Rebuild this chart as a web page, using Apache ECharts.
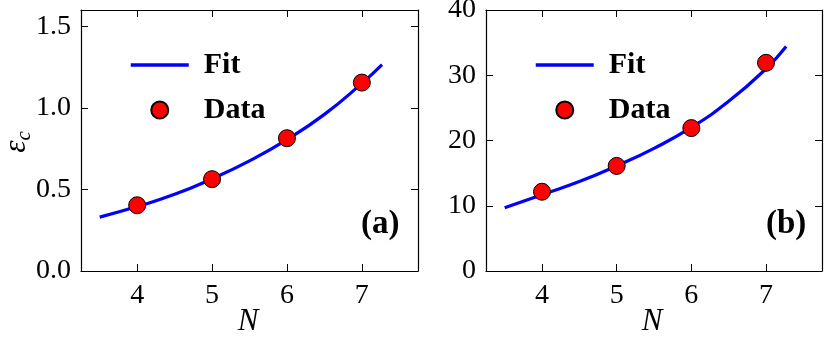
<!DOCTYPE html>
<html>
<head>
<meta charset="utf-8">
<script src="https://cdn.jsdelivr.net/npm/echarts@6/dist/echarts.min.js"></script>
<style>
  html, body { margin: 0; padding: 0; background: #fff; }
  #chart { width: 830px; height: 341px; }
</style>
</head>
<body>
<div id="chart"></div>
<script>
// data
const nTicks = [4, 5, 6, 7];
const epsTicks = [0.0, 0.5, 1.0, 1.5];
const bTicks = [0, 10, 20, 30, 40];

const nData = [4, 5, 6, 7];
const epsData = [0.403, 0.563, 0.814, 1.155];
const bData = [12.15, 16.1, 21.9, 31.9];

const fitN = [3.5, 4, 4.5, 5, 5.5, 6, 6.5, 7, 7.27];
const fitA = [0.33, 0.395, 0.47, 0.565, 0.675, 0.805, 0.96, 1.15, 1.265];
const fitB = [9.7, 11.7, 13.7, 16.1, 18.8, 22.0, 26.0, 31.0, 34.4];

const FONT = "Liberation Serif";
const pairs = (xs, ys) => xs.map((x, i) => [x, ys[i]]);

const chart = echarts.init(document.getElementById("chart"));

const xAxisBase = (gridIndex, pos) => ({
  gridIndex: gridIndex,
  type: "value",
  position: pos,
  min: 3.25,
  max: 7.75,
  axisLine: { show: true, onZero: false, lineStyle: { color: "#000", width: 1.2 } },
  axisTick: { show: true, inside: true, length: 7, customValues: nTicks, lineStyle: { color: "#000", width: 1 } },
  axisLabel: {
    show: pos === "bottom",
    customValues: nTicks,
    margin: 11,
    fontFamily: FONT,
    fontSize: 28,
    color: "#000"
  },
  splitLine: { show: false }
});

const yAxisBase = (gridIndex, pos, max, ticks, fmt) => ({
  gridIndex: gridIndex,
  type: "value",
  position: pos,
  min: 0,
  max: max,
  axisLine: { show: true, onZero: false, lineStyle: { color: "#000", width: 1.2 } },
  axisTick: { show: true, inside: true, length: 7, customValues: ticks, lineStyle: { color: "#000", width: 1 } },
  axisLabel: {
    show: pos === "left",
    customValues: ticks,
    margin: 10,
    fontFamily: FONT,
    fontSize: 28,
    color: "#000",
    formatter: fmt
  },
  splitLine: { show: false }
});

const legendBase = left => ({
  orient: "vertical",
  left: left,
  top: 45,
  itemWidth: 58,
  itemHeight: 17,
  itemGap: 15,
  data: [
    { name: "Fit", itemStyle: { color: "rgba(0,0,0,0)", borderWidth: 0 }, lineStyle: { color: "#0000ff", width: 3.5 } },
    { name: "Data" }
  ],
  textStyle: {
    fontFamily: FONT,
    fontWeight: "bold",
    fontSize: 30,
    lineHeight: 30,
    color: "#000",
    padding: [0, 0, 0, 10]
  },
  selectedMode: false
});

// axis titles drawn as plain text
const nTitle = x => ({
  type: "text",
  x: x,
  y: 322,
  style: {
    text: "N",
    font: "italic 31px '" + FONT + "'",
    fill: "#000",
    align: "center",
    verticalAlign: "middle"
  }
});

const fitStyle = { color: "#0000ff", width: 3.2 };
const dotStyle = { color: "#ff0000", borderColor: "#000", borderWidth: 1, opacity: 1 };

chart.setOption({
  animation: false,
  backgroundColor: "#fff",
  grid: [
    { left: 81, top: 10, width: 337, height: 261, containLabel: false, outerBoundsMode: "none" },
    { left: 486, top: 10, width: 336, height: 261, containLabel: false, outerBoundsMode: "none" }
  ],
  title: [
    { text: "(a)", left: 361, top: 208, padding: 0,
      textStyle: { fontFamily: FONT, fontWeight: "bold", fontSize: 33, color: "#000" } },
    { text: "(b)", left: 766, top: 208, padding: 0,
      textStyle: { fontFamily: FONT, fontWeight: "bold", fontSize: 33, color: "#000" } }
  ],
  graphic: [
    nTitle(248),
    nTitle(652),
    {
      type: "text",
      x: 17,
      y: 142,
      rotation: Math.PI / 2,
      style: {
        text: "{e|ε}{s|c}",
        align: "center",
        verticalAlign: "middle",
        rich: {
          e: { font: "italic 31px '" + FONT + "'", fill: "#000" },
          s: { font: "italic 21px '" + FONT + "'", fill: "#000", padding: [14, 0, 0, 0] }
        }
      }
    }
  ],
  legend: [legendBase(124), legendBase(529)],
  xAxis: [xAxisBase(0, "bottom"), xAxisBase(0, "top"), xAxisBase(1, "bottom"), xAxisBase(1, "top")],
  yAxis: [
    yAxisBase(0, "left", 1.6, epsTicks, v => v.toFixed(1)),
    yAxisBase(0, "right", 1.6, epsTicks),
    yAxisBase(1, "left", 40, bTicks, v => String(v)),
    yAxisBase(1, "right", 40, bTicks)
  ],
  series: [
    {
      name: "Fit", type: "line", xAxisIndex: 0, yAxisIndex: 0,
      data: pairs(fitN, fitA), smooth: true, symbol: "none",
      lineStyle: fitStyle, itemStyle: { color: "#0000ff" }, z: 2
    },
    {
      name: "Data", type: "scatter", xAxisIndex: 0, yAxisIndex: 0,
      data: pairs(nData, epsData), symbolSize: 17, itemStyle: dotStyle, z: 3
    },
    {
      name: "Fit", type: "line", xAxisIndex: 2, yAxisIndex: 2,
      data: pairs(fitN, fitB), smooth: true, symbol: "none",
      lineStyle: fitStyle, itemStyle: { color: "#0000ff" }, z: 2
    },
    {
      name: "Data", type: "scatter", xAxisIndex: 2, yAxisIndex: 2,
      data: pairs(nData, bData), symbolSize: 17, itemStyle: dotStyle, z: 3
    }
  ]
});
</script>
</body>
</html>
